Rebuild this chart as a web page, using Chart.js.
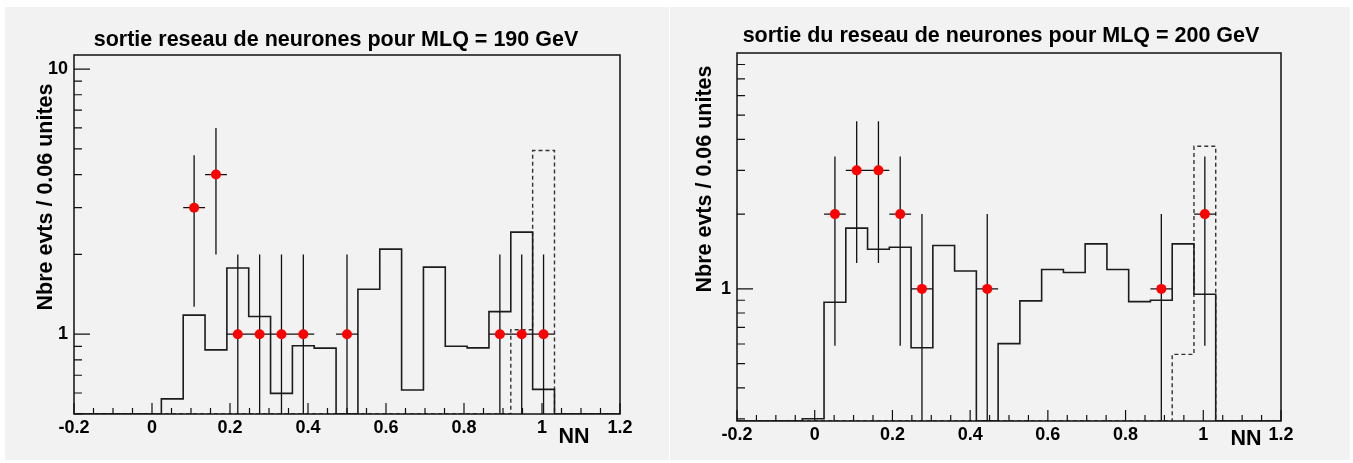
<!DOCTYPE html>
<html>
<head>
<meta charset="utf-8">
<script src="https://cdn.jsdelivr.net/npm/chart.js@4.4.0/dist/chart.umd.min.js"></script>
<style>
  body { margin: 0; background: #fff; width: 1353px; height: 463px; position: relative; overflow: hidden; }
  .pad { position: absolute; top: 7px; height: 453px; background: #f2f2f2; }
  #pad190 { left: 5px; width: 664px; }
  #pad200 { left: 670px; width: 680px; }
</style>
</head>
<body>
<div class="pad" id="pad190"><canvas id="chart190" width="664" height="453"></canvas></div>
<div class="pad" id="pad200"><canvas id="chart200" width="680" height="453"></canvas></div>

<script>
// binning of the NN output: 25 bins from -0.2 to 1.2
const binLow = -0.2;
const binWidth = 0.056;
const nBins = 25;
const xMin = -0.2;
const xMax = 1.2;
const xTickStep = 0.05;
const xLabelStep = 0.2;

// MLQ = 190 GeV (one value per bin)
const bkg190 = [0, 0, 0, 0, 0.57, 1.18, 0.873, 1.777, 1.166, 0.598, 0.904, 0.886, 0, 1.477, 2.094, 0.616, 1.79, 0.901, 0.888, 1.217, 2.427, 0.619, 0, 0, 0];
const sig190 = [0, 0, 0, 0, 0, 0, 0, 0, 0, 0, 0, 0, 0, 0, 0, 0, 0, 0, 0, 0, 1.04, 4.93, 0, 0, 0];
const data190 = [0, 0, 0, 0, 0, 3, 4, 1, 1, 1, 1, 0, 1, 0, 0, 0, 0, 0, 0, 1, 1, 1, 0, 0, 0];
const err190 = [0, 0, 0, 0, 0, 1.73, 2, 1, 1, 1, 1, 0, 1, 0, 0, 0, 0, 0, 0, 1, 1, 1, 0, 0, 0];
const yTicks190 = [0.5, 0.6, 0.7, 0.8, 0.9, 1, 2, 3, 4, 5, 6, 7, 8, 9, 10];
const yLabels190 = [1, 10];

// MLQ = 200 GeV
const bkg200 = [0, 0, 0, 0.3, 0.884, 1.757, 1.445, 1.472, 0.58, 1.495, 1.18, 0, 0.602, 0.895, 1.197, 1.164, 1.518, 1.197, 0.889, 0.9, 1.518, 0.952, 0, 0, 0];
const sig200 = [0, 0, 0, 0, 0, 0, 0, 0, 0, 0, 0, 0, 0, 0, 0, 0, 0, 0, 0, 0, 0.545, 3.75, 0, 0, 0];
const data200 = [0, 0, 0, 0, 2, 3, 3, 2, 1, 0, 0, 1, 0, 0, 0, 0, 0, 0, 0, 1, 0, 2, 0, 0, 0];
const err200 = [0, 0, 0, 0, 1.41, 1.73, 1.73, 1.41, 1, 0, 0, 1, 0, 0, 0, 0, 0, 0, 0, 1, 0, 1.41, 0, 0, 0];
const yTicks200 = [0.3, 0.4, 0.5, 0.6, 0.7, 0.8, 0.9, 1, 2, 3, 4, 5, 6, 7, 8];
const yLabels200 = [1];

const edges = Array.from({ length: nBins + 1 }, (_, i) => binLow + i * binWidth);
const FONT = '"Liberation Sans", Arial, Helvetica, sans-serif';
const INK = '#111';

// histogram as a stepped line, empty bins sit on the lower edge of the log axis
function stepData(values, yMin) {
    return edges.map((e, i) => ({ x: e, y: i < nBins ? Math.max(values[i], yMin) : yMin }));
}

function pointData(counts) {
    const pts = [];
    counts.forEach((n, i) => {
        if (n > 0) pts.push({ x: edges[i] + binWidth / 2, y: n });
    });
    return pts;
}

const rootStyle = {
    id: 'rootStyle',
    beforeDatasetDraw(chart, args, opts) {
        if (chart.data.datasets[args.index].label !== 'data') return;
        const { x, y } = chart.scales;
        const area = chart.chartArea;
        const ctx = chart.ctx;
        ctx.save();
        ctx.beginPath();
        ctx.rect(area.left, area.top, area.right - area.left, area.bottom - area.top);
        ctx.clip();
        ctx.strokeStyle = INK;
        ctx.lineWidth = 1.3;
        ctx.beginPath();
        opts.counts.forEach((n, i) => {
            if (!n) return;
            const e = opts.errors[i];
            const cx = x.getPixelForValue(edges[i] + binWidth / 2);
            const cy = y.getPixelForValue(n);
            const lo = n - e > y.min ? y.getPixelForValue(n - e) : area.bottom;
            const hi = y.getPixelForValue(n + e);
            ctx.moveTo(cx, lo);
            ctx.lineTo(cx, hi);
            ctx.moveTo(x.getPixelForValue(edges[i]), cy);
            ctx.lineTo(x.getPixelForValue(edges[i + 1]), cy);
        });
        ctx.stroke();
        ctx.restore();
    },
    afterDraw(chart, args, opts) {
        const { x, y } = chart.scales;
        const area = chart.chartArea;
        const ctx = chart.ctx;
        ctx.save();
        ctx.strokeStyle = INK;
        ctx.lineWidth = 1.5;
        ctx.strokeRect(area.left, area.top, area.right - area.left, area.bottom - area.top);

        // inner tick marks
        ctx.lineWidth = 1.2;
        ctx.beginPath();
        x.ticks.forEach(t => {
            const px = x.getPixelForValue(t.value);
            const q = t.value / xLabelStep;
            const len = Math.abs(q - Math.round(q)) < 1e-6 ? 11 : 6;
            ctx.moveTo(px, area.bottom);
            ctx.lineTo(px, area.bottom - len);
        });
        y.ticks.forEach(t => {
            const py = y.getPixelForValue(t.value);
            const len = opts.yLabels.includes(t.value) ? 16 : 8;
            ctx.moveTo(area.left, py);
            ctx.lineTo(area.left + len, py);
        });
        ctx.stroke();

        // titles
        ctx.fillStyle = '#000';
        ctx.font = 'bold 21.5px ' + FONT;
        ctx.textAlign = 'center';
        ctx.textBaseline = 'alphabetic';
        ctx.fillText(opts.title, opts.titlePos[0], opts.titlePos[1]);
        ctx.fillText('NN', opts.xTitlePos[0], opts.xTitlePos[1]);
        ctx.translate(opts.yTitlePos[0], opts.yTitlePos[1]);
        ctx.rotate(-Math.PI / 2);
        ctx.fillText('Nbre evts / 0.06 unites', 0, 0);
        ctx.restore();
    }
};

function makeChart(id, p) {
    const canvas = document.getElementById(id);
    return new Chart(canvas.getContext('2d'), {
        type: 'line',
        data: {
            datasets: [
                {
                    label: 'data', type: 'scatter', order: 0,
                    data: pointData(p.counts),
                    showLine: false, pointRadius: 5, pointHoverRadius: 5,
                    pointBackgroundColor: '#ff0000', pointBorderWidth: 0
                },
                {
                    label: 'bkg', order: 1,
                    data: stepData(p.bkg, p.yMin),
                    stepped: true, borderColor: '#1c1c1c', borderWidth: 1.6,
                    pointRadius: 0, fill: false
                },
                {
                    label: 'sig', order: 2,
                    data: stepData(p.sig, p.yMin),
                    stepped: true, borderColor: '#333', borderWidth: 1.4, borderDash: [4, 3],
                    pointRadius: 0, fill: false
                }
            ]
        },
        options: {
            responsive: false,
            animation: false,
            events: [],
            layout: { padding: p.padding },
            plugins: {
                legend: { display: false },
                tooltip: { enabled: false },
                rootStyle: {
                    counts: p.counts, errors: p.errors, yLabels: p.yLabels,
                    title: p.title, titlePos: p.titlePos,
                    xTitlePos: p.xTitlePos, yTitlePos: p.yTitlePos
                }
            },
            scales: {
                x: {
                    type: 'linear', min: xMin, max: xMax,
                    grid: { display: false, drawTicks: false },
                    border: { display: false },
                    afterFit: s => { s.height = p.xAxisHeight; },
                    ticks: {
                        stepSize: xTickStep, autoSkip: false, maxRotation: 0, padding: 3,
                        color: '#000', font: { family: FONT, size: 18, weight: 'bold' },
                        callback: v => {
                            const q = v / xLabelStep;
                            return Math.abs(q - Math.round(q)) < 1e-6 ? String(+v.toFixed(1)) : '';
                        }
                    }
                },
                y: {
                    type: 'logarithmic', min: p.yMin, max: p.yMax,
                    grid: { display: false, drawTicks: false },
                    border: { display: false },
                    afterFit: s => { s.width = p.yAxisWidth; },
                    afterBuildTicks: s => { s.ticks = p.yTicks.map(v => ({ value: v })); },
                    ticks: {
                        autoSkip: false, padding: 6,
                        color: '#000', font: { family: FONT, size: 18, weight: 'bold' },
                        callback: v => (p.yLabels.includes(v) ? String(v) : '')
                    }
                }
            }
        },
        plugins: [rootStyle]
    });
}

makeChart('chart190', {
    bkg: bkg190, sig: sig190, counts: data190, errors: err190,
    yTicks: yTicks190, yLabels: yLabels190, yMin: 0.5, yMax: 11.3,
    padding: { left: 0, right: 49, top: 48, bottom: 0 },
    yAxisWidth: 69, xAxisHeight: 46,
    title: 'sortie reseau de neurones pour MLQ = 190 GeV',
    titlePos: [331, 39], xTitlePos: [569, 436], yTitlePos: [47, 190]
});

makeChart('chart200', {
    bkg: bkg200, sig: sig200, counts: data200, errors: err200,
    yTicks: yTicks200, yLabels: yLabels200, yMin: 0.294, yMax: 8.9,
    padding: { left: 0, right: 69, top: 46, bottom: 0 },
    yAxisWidth: 67, xAxisHeight: 39,
    title: 'sortie du reseau de neurones pour MLQ = 200 GeV',
    titlePos: [331, 35], xTitlePos: [576, 438], yTitlePos: [41, 172]
});
</script>
</body>
</html>
